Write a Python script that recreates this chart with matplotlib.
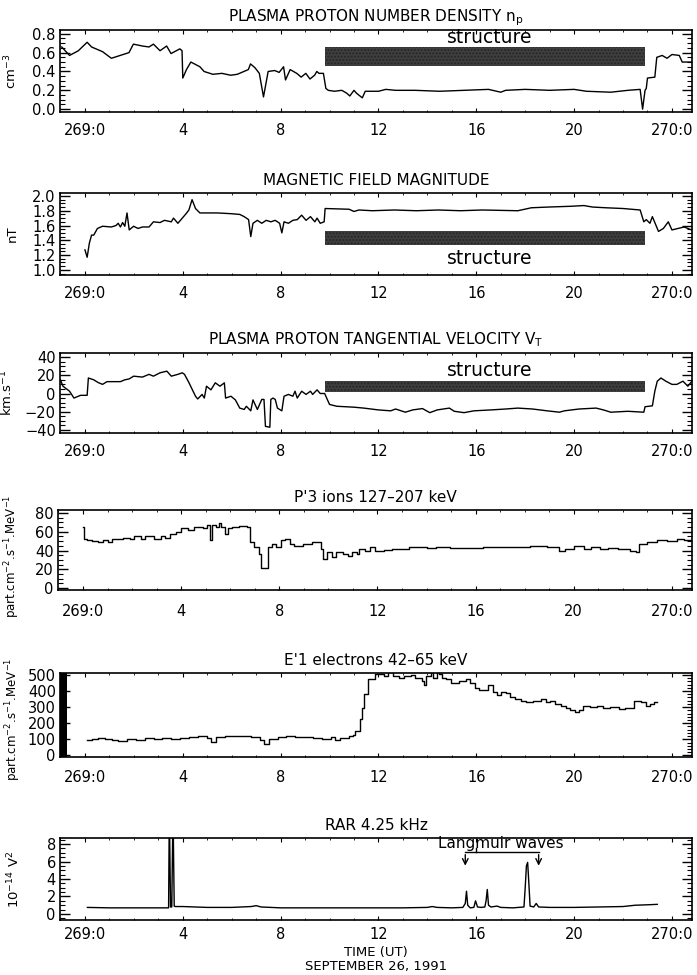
import matplotlib
matplotlib.use("Agg")
import matplotlib.pyplot as plt
from matplotlib.ticker import MultipleLocator, FormatStrFormatter

# ---------------- data (hours since 269:0, value) ----------------
hour_ticks = [0, 4, 8, 12, 16, 20, 24]
hour_labels = ["269:0", "4", "8", "12", "16", "20", "270:0"]

# Panel 1: proton density (cm^-3)
density = [(-0.95, 0.66), (-0.63, 0.57), (-0.27, 0.62), (0.09, 0.71), (0.27, 0.66), (0.72, 0.61),
           (1.08, 0.54), (1.44, 0.57), (1.8, 0.60), (1.98, 0.69), (2.35, 0.67), (2.62, 0.66),
           (2.8, 0.69), (3.07, 0.62), (3.34, 0.67), (3.52, 0.59), (3.88, 0.64), (3.97, 0.62),
           (4.0, 0.33), (4.15, 0.42), (4.33, 0.50), (4.7, 0.45), (4.87, 0.40), (5.23, 0.37),
           (5.6, 0.38), (5.96, 0.36), (6.23, 0.37), (6.5, 0.40), (6.68, 0.42), (6.77, 0.48),
           (6.95, 0.44), (7.13, 0.38), (7.3, 0.13), (7.49, 0.40), (7.76, 0.41), (7.94, 0.39),
           (8.12, 0.45), (8.2, 0.31), (8.39, 0.42), (8.66, 0.38), (8.84, 0.34), (9.03, 0.38),
           (9.2, 0.32), (9.39, 0.36), (9.48, 0.40), (9.57, 0.38), (9.75, 0.38), (9.85, 0.22),
           (9.95, 0.20), (10.2, 0.19), (10.5, 0.20), (10.7, 0.17), (10.83, 0.14), (11.0, 0.20),
           (11.1, 0.17), (11.34, 0.12), (11.46, 0.19), (12.0, 0.19), (12.3, 0.21), (12.7, 0.20),
           (13.5, 0.20), (14.5, 0.19), (15.5, 0.20), (16.5, 0.21), (17.0, 0.18), (17.2, 0.20),
           (18.0, 0.21), (19.0, 0.20), (20.0, 0.21), (20.5, 0.19), (21.5, 0.18), (22.2, 0.20),
           (22.7, 0.21), (22.8, 0.0), (22.9, 0.20), (22.95, 0.22), (23.0, 0.33), (23.3, 0.34),
           (23.38, 0.55), (23.6, 0.57), (23.8, 0.54), (24.0, 0.58), (24.3, 0.57), (24.42, 0.50),
           (24.8, 0.50)]

# Panel 2: magnetic field magnitude (nT)
bfield = [(0.0, 1.27), (0.09, 1.17), (0.18, 1.36), (0.27, 1.47), (0.36, 1.47), (0.51, 1.56),
          (0.72, 1.59), (1.08, 1.58), (1.27, 1.60), (1.36, 1.63), (1.45, 1.58), (1.54, 1.64),
          (1.63, 1.59), (1.72, 1.77), (1.81, 1.54), (1.99, 1.59), (2.17, 1.56), (2.35, 1.58),
          (2.62, 1.58), (2.8, 1.65), (3.07, 1.64), (3.25, 1.67), (3.53, 1.65), (3.62, 1.70),
          (3.8, 1.63), (3.98, 1.70), (4.16, 1.77), (4.25, 1.81), (4.38, 1.95), (4.52, 1.83),
          (4.7, 1.77), (5.42, 1.77), (5.97, 1.76), (6.33, 1.75), (6.51, 1.72), (6.69, 1.68),
          (6.78, 1.45), (6.87, 1.63), (7.05, 1.67), (7.23, 1.63), (7.41, 1.67), (7.6, 1.65),
          (7.78, 1.67), (7.96, 1.63), (8.05, 1.50), (8.14, 1.65), (8.32, 1.63), (8.5, 1.67),
          (8.68, 1.68), (8.86, 1.74), (9.04, 1.67), (9.22, 1.72), (9.4, 1.65), (9.49, 1.70),
          (9.62, 1.63), (9.78, 1.65), (9.82, 1.83), (10.8, 1.82), (11.0, 1.79), (11.2, 1.81),
          (11.75, 1.80), (12.65, 1.81), (13.55, 1.80), (14.45, 1.81), (15.35, 1.80), (16.25, 1.81),
          (17.7, 1.80), (18.25, 1.84), (18.95, 1.85), (19.85, 1.86), (20.4, 1.87), (20.75, 1.85),
          (21.3, 1.84), (22.0, 1.83), (22.7, 1.81), (22.85, 1.65), (22.95, 1.68), (23.1, 1.63),
          (23.2, 1.72), (23.45, 1.52), (23.65, 1.56), (23.85, 1.65), (24.0, 1.54), (24.25, 1.56),
          (24.5, 1.58), (24.8, 1.54)]

# Panel 3: tangential velocity (km/s)
velocity = [(-1.0, 15), (-0.9, 8), (-0.63, 2.5), (-0.45, -5), (-0.27, -3), (-0.18, -2), (0.09, -2),
            (0.14, 17), (0.36, 15), (0.54, 12), (0.72, 10), (0.9, 13), (1.45, 13), (1.63, 15),
            (1.81, 16), (1.99, 19), (2.35, 18), (2.62, 21), (2.8, 19), (3.07, 22.7), (3.35, 24.5),
            (3.53, 19), (3.8, 21), (3.98, 22.7), (4.07, 21), (4.25, 12), (4.52, -3), (4.61, -6),
            (4.79, -1), (4.88, -5), (4.97, 8), (5.15, 4), (5.33, 11.7), (5.52, 8), (5.7, 11.7),
            (5.75, -5), (5.97, -3), (6.15, -7), (6.33, -16), (6.51, -17.5), (6.6, -14), (6.78, -19),
            (6.87, -7), (7.05, -17.5), (7.23, -6.5), (7.32, -6.5), (7.38, -36), (7.56, -37),
            (7.6, -6.5), (7.69, -5), (7.78, -6.5), (7.87, -16), (8.05, -19), (8.14, -3), (8.32, -1),
            (8.5, -3), (8.59, 2.5), (8.68, -5), (8.86, 2.5), (9.04, -1), (9.22, 2.5), (9.31, -1),
            (9.49, 4), (9.62, 0), (9.8, 0), (10.0, -12), (10.3, -14), (11.0, -15), (11.4, -16),
            (12.0, -18), (12.5, -19), (12.7, -17), (13.1, -20.5), (13.4, -18), (13.8, -16.5),
            (14.1, -21), (14.4, -18), (14.9, -16), (15.1, -19.5), (15.5, -21), (15.9, -19),
            (16.6, -18), (17.2, -17), (17.7, -16), (18.3, -17), (18.9, -19), (19.4, -20.5),
            (19.6, -19), (20.2, -17), (20.9, -16), (21.2, -18), (21.5, -20.5), (22.2, -19.5),
            (22.85, -20.5), (22.9, -14.5), (23.2, -13.5), (23.3, 2.5), (23.4, 13.5), (23.55, 17),
            (23.75, 13.5), (24.0, 10), (24.2, 10), (24.45, 13.5), (24.65, 8), (24.8, 13)]

# Panel 4: P'3 ions 127-207 keV
ions = [(0.0, 65.5), (0.05, 52.7), (0.18, 51.6), (0.36, 50), (0.63, 49), (0.82, 51), (1.0, 49),
        (1.18, 52), (1.36, 52.7), (1.63, 53.8), (1.9, 52), (2.08, 56), (2.36, 52), (2.54, 56),
        (2.72, 56), (2.9, 52.7), (3.17, 56), (3.35, 53.8), (3.53, 58), (3.8, 60), (3.99, 63.6),
        (4.26, 61.8), (4.53, 65.5), (4.89, 63.6), (5.07, 67), (5.16, 51), (5.25, 67), (5.43, 65.5),
        (5.53, 69), (5.62, 65.5), (5.8, 58), (5.89, 63.6), (6.07, 65.5), (6.34, 66), (6.7, 65.5),
        (6.79, 49), (6.97, 43.6), (7.16, 36), (7.25, 21.8), (7.52, 43.6), (7.7, 47), (7.88, 43.6),
        (8.06, 51), (8.24, 52.7), (8.42, 47), (8.6, 45), (8.97, 47), (9.33, 49), (9.6, 49),
        (9.69, 41.8), (9.78, 31), (9.96, 38), (10.14, 33), (10.33, 38), (10.6, 36), (10.78, 34.5),
        (10.97, 38), (11.15, 36), (11.24, 41.8), (11.5, 40), (11.7, 43.6), (11.88, 40),
        (12.25, 41), (12.6, 42), (13.3, 43.6), (14.0, 42.5), (14.4, 43.6), (14.95, 42.8),
        (15.5, 43.2), (16.3, 43.5), (17.2, 44.2), (18.2, 44.9), (18.9, 44.2), (19.4, 40),
        (19.65, 42), (20.0, 44.9), (20.4, 42), (20.7, 44.2), (21.05, 42), (21.4, 43), (21.8, 42),
        (22.3, 40), (22.55, 38), (22.65, 47), (23.0, 49), (23.4, 51), (23.8, 50.5), (24.2, 52),
        (24.5, 51), (24.8, 51)]

# Panel 5: E'1 electrons 42-65 keV
electrons = [(0.1, 96), (0.27, 100), (0.54, 107), (0.82, 100), (1.09, 96), (1.36, 91), (1.72, 100),
             (2.08, 96), (2.45, 107), (2.81, 104), (3.17, 109), (3.53, 104), (3.9, 109), (4.26, 113),
             (4.62, 118), (4.98, 107), (5.16, 84), (5.34, 113), (5.71, 118), (6.07, 122),
             (6.43, 118), (6.79, 113), (7.16, 96), (7.34, 73), (7.52, 100), (7.88, 113), (8.24, 118),
             (8.6, 113), (8.97, 113), (9.33, 107), (9.69, 100), (10.05, 113), (10.24, 96),
             (10.42, 107), (10.78, 118), (10.96, 129), (11.05, 151), (11.23, 229), (11.32, 296),
             (11.41, 384), (11.59, 473), (11.87, 507), (12.23, 496), (12.41, 518), (12.59, 496),
             (12.86, 484), (13.04, 496), (13.32, 500), (13.5, 484), (13.77, 462), (13.86, 440),
             (13.95, 496), (14.13, 518), (14.22, 484), (14.4, 522), (14.49, 507), (14.58, 484),
             (14.76, 473), (14.95, 451), (15.13, 451), (15.31, 462), (15.58, 473), (15.76, 451),
             (15.94, 418), (16.12, 407), (16.3, 407), (16.49, 440), (16.67, 396), (16.85, 373),
             (17.03, 396), (17.21, 385), (17.39, 362), (17.57, 351), (17.84, 340), (18.03, 329),
             (18.3, 336), (18.48, 340), (18.66, 351), (18.84, 329), (19.02, 340), (19.2, 318),
             (19.47, 307), (19.66, 296), (19.84, 284), (20.02, 269), (20.2, 284), (20.38, 307),
             (20.65, 300), (20.92, 307), (21.2, 296), (21.47, 300), (21.83, 291), (22.1, 296),
             (22.37, 296), (22.46, 340), (22.74, 329), (22.92, 307), (23.1, 318), (23.28, 329),
             (23.4, 329)]

# Panel 6: RAR 4.25 kHz (10^-14 V^2)
rar = [(0.1, 0.75), (1.0, 0.7), (2.0, 0.7), (3.0, 0.7), (3.42, 0.7), (3.45, 12), (3.5, 0.8),
       (3.55, 0.8), (3.6, 12), (3.65, 0.9), (3.7, 0.85), (4.0, 0.85), (4.5, 0.8), (5.0, 0.75),
       (6.0, 0.75), (6.8, 0.85), (7.0, 0.95), (7.2, 0.8), (8.0, 0.7), (9.0, 0.7), (10.0, 0.7),
       (11.0, 0.7), (12.0, 0.7), (13.0, 0.7), (14.0, 0.75), (14.2, 0.85), (14.4, 0.75),
       (15.0, 0.7), (15.45, 0.75), (15.55, 1.2), (15.6, 2.6), (15.65, 1.0), (15.75, 0.7),
       (15.9, 0.75), (15.97, 1.5), (16.05, 0.8), (16.2, 0.75), (16.35, 0.8), (16.4, 1.5),
       (16.45, 2.8), (16.5, 1.0), (16.6, 0.8), (16.85, 0.9), (17.0, 0.75), (17.5, 0.7),
       (17.95, 0.8), (18.0, 3.0), (18.05, 5.5), (18.1, 5.9), (18.15, 3.5), (18.2, 0.9),
       (18.35, 0.8), (18.45, 1.2), (18.55, 0.8), (19.0, 0.75), (20.0, 0.75), (21.0, 0.8),
       (22.0, 0.85), (22.5, 1.0), (23.0, 1.05), (23.4, 1.1)]

# structure interval (hours) and bands
structure_start, structure_end = 9.8, 22.9
density_band = (0.46, 0.66)
bfield_band = (1.33, 1.53)
velocity_band = (1.5, 14.0)
electron_gap = (-1.0, -0.72)

def split(pairs):
    return [p[0] for p in pairs], [p[1] for p in pairs]

# ---------------- figure ----------------
plt.rcParams['font.family'] = ['DejaVu Sans']
fig = plt.figure(figsize=(6.97, 9.75), dpi=100)

W, H = 697.0, 975.0
def add_ax(left, top, right, bottom):
    return fig.add_axes([left / W, 1 - bottom / H, (right - left) / W, (bottom - top) / H])

axes = [
    add_ax(60, 30, 692, 112),
    add_ax(60, 193, 692, 275),
    add_ax(60, 353, 692, 433),
    add_ax(58, 510, 692, 590),
    add_ax(60, 673, 692, 757),
    add_ax(60, 838, 692, 920),
]

lw = 1.0
fs = 10.5
titles = ["PLASMA PROTON NUMBER DENSITY n$_\\mathregular{p}$",
          "MAGNETIC FIELD MAGNITUDE",
          "PLASMA PROTON TANGENTIAL VELOCITY V$_\\mathregular{T}$",
          "P'3 ions 127\u2013207 keV",
          "E'1 electrons 42\u201365 keV",
          "RAR 4.25 kHz"]
ylabels = ["cm$^{-3}$", "nT", "km.s$^{-1}$",
           "part.cm$^{-2}$.s$^{-1}$.MeV$^{-1}$", "part.cm$^{-2}$.s$^{-1}$.MeV$^{-1}$",
           "10$^{-14}$ V$^2$"]
ylims = [(-0.03, 0.84), (0.93, 2.04), (-43.3, 44.4), (-2.1, 83.2), (-10, 512), (-0.69, 8.69)]
ymaj = [0.2, 0.2, 20, 20, 100, 2]
ymin = [0.05, 0.05, 5, 5, 20, 0.5]
xpads = [8, 8, 8, 10, 9, 5]
label_x = [-0.065, -0.065, -0.07, -0.056, -0.058, -0.06]
label_y = [0.5, 0.5, 0.5, 0.42, 0.45, 0.5]
label_fs = [9.5, 9.5, 9.5, 8.5, 8.5, 9.5]

for i, ax in enumerate(axes):
    ax.set_xlim(-1.02, 24.82)
    ax.set_ylim(*ylims[i])
    ax.set_xticks(hour_ticks)
    ax.set_xticklabels(hour_labels, fontsize=fs)
    ax.xaxis.set_minor_locator(MultipleLocator(1))
    ax.yaxis.set_major_locator(MultipleLocator(ymaj[i]))
    ax.yaxis.set_minor_locator(MultipleLocator(ymin[i]))
    ax.tick_params(axis='both', which='both', direction='in', top=True, right=True,
                   labelsize=fs)
    ax.tick_params(axis='y', which='major', length=7, width=1, pad=3)
    ax.tick_params(axis='y', which='minor', length=3.5, width=0.8)
    ax.tick_params(axis='x', which='major', length=3, width=0.8, pad=xpads[i])
    ax.tick_params(axis='x', which='minor', length=1.5, width=0.6)
    for s in ax.spines.values():
        s.set_linewidth(1.2)
    ax.set_title(titles[i], fontsize=fs + 0.5, pad=6)
    ax.set_ylabel(ylabels[i], fontsize=label_fs[i])
    ax.yaxis.set_label_coords(label_x[i], label_y[i])

axes[0].yaxis.set_major_formatter(FormatStrFormatter('%.1f'))
axes[1].yaxis.set_major_formatter(FormatStrFormatter('%.1f'))

band_kw = dict(color='#3f3f3f', edgecolor='#262626', hatch='.....', linewidth=0)
mid = (structure_start + structure_end) / 2 + 0.2

a = axes[0]
t, v = split(density)
a.plot(t, v, color='k', lw=lw)
a.fill_between([structure_start, structure_end], density_band[0], density_band[1], **band_kw)
a.text(mid, 0.76, "structure", ha='center', va='center', fontsize=13.5)

a = axes[1]
t, v = split(bfield)
a.plot(t, v, color='k', lw=lw)
a.fill_between([structure_start, structure_end], bfield_band[0], bfield_band[1], **band_kw)
a.text(mid, 1.16, "structure", ha='center', va='center', fontsize=13.5)

a = axes[2]
t, v = split(velocity)
a.plot(t, v, color='k', lw=lw)
a.fill_between([structure_start, structure_end], velocity_band[0], velocity_band[1], **band_kw)
a.text(mid, 25, "structure", ha='center', va='center', fontsize=13.5)

a = axes[3]
t, v = split(ions)
a.plot(t, v, color='k', lw=lw, drawstyle='steps-post')

a = axes[4]
t, v = split(electrons)
a.plot(t, v, color='k', lw=lw, drawstyle='steps-post')
a.axvspan(electron_gap[0], electron_gap[1], color='k', lw=0)

a = axes[5]
t, v = split(rar)
a.plot(t, v, color='k', lw=lw)
a.set_xlabel("TIME (UT)\nSEPTEMBER 26, 1991", fontsize=fs - 1, labelpad=3, linespacing=1.1)
a.text(17.0, 8.05, "Langmuir waves", ha='center', va='center', fontsize=11)
a.plot([15.55, 18.55], [7.05, 7.05], color='k', lw=1)
a.plot([16.0, 16.0], [7.05, 7.5], color='k', lw=1)
for xa in (15.55, 18.55):
    a.annotate("", xy=(xa, 5.2), xytext=(xa, 7.1),
               arrowprops=dict(arrowstyle='->', color='k', lw=1))

fig.savefig("out.png", dpi=100)
